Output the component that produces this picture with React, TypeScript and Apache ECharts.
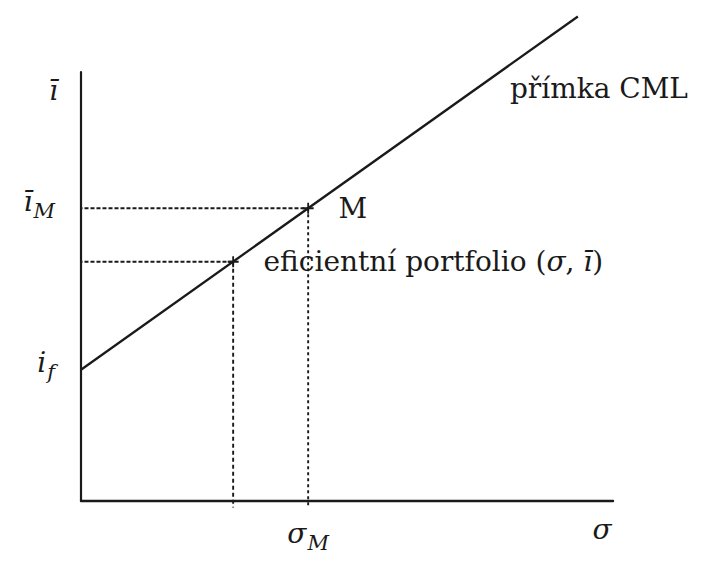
import React, { useEffect, useRef } from "react";
import * as echarts from "echarts";

// Capital market line: risk-free rate, market portfolio M and one efficient portfolio on the line
const riskFreeRate = 2.6;
const marketSigma = 4.27;
const marketReturn = 5.8;
const efficientSigma = 2.86;
const efficientReturn = 4.74;
const cmlSigma = [0, 9.34];
const cmlReturn = [2.6, 9.6];

const axisMaxSigma = 10;
const axisMaxReturn = 8.5;

const ink = "#1a1a1a";
const serif = "DejaVu Serif";

const crossSymbol = "path://M0,5L10,5M5,0L5,10";

export default function App() {
  const ref = useRef<HTMLDivElement>(null);

  useEffect(() => {
    if (!ref.current) return;
    const chart = echarts.init(ref.current, undefined, { renderer: "svg" });

    // italic symbol with a lowered subscript
    const big = {
      fontFamily: serif,
      fontStyle: "italic",
      fontSize: 28,
      color: ink,
      lineHeight: 30,
      verticalAlign: "top",
    };
    const sub = {
      fontFamily: serif,
      fontStyle: "italic",
      fontSize: 21,
      color: ink,
      lineHeight: 24,
      verticalAlign: "top",
      padding: [13, 0, 0, 1],
    };

    const leftOver = -0.16;
    const downOver = -0.13;

    const guide = (pts: number[][], dash: number[]) => ({
      type: "line",
      data: pts,
      symbol: "none",
      clip: false,
      silent: true,
      lineStyle: { color: ink, width: 1.9, type: dash },
      z: 1,
    });

    chart.setOption({
      animation: false,
      backgroundColor: "#ffffff",
      textStyle: { fontFamily: serif, color: ink },
      grid: { left: 81, top: 72, width: 532, height: 429 },
      xAxis: {
        type: "value",
        min: 0,
        max: axisMaxSigma,
        name: "σ",
        nameLocation: "end",
        nameGap: -11,
        nameTextStyle: {
          fontFamily: serif,
          fontStyle: "italic",
          fontSize: 28,
          color: ink,
          align: "center",
          verticalAlign: "top",
          padding: [14, 0, 0, 0],
        },
        axisLine: { show: true, lineStyle: { color: ink, width: 2.4 } },
        axisTick: { show: false },
        splitLine: { show: false },
        axisLabel: {
          customValues: [marketSigma],
          margin: 18,
          formatter: () => "{b|σ}{s|M}",
          rich: { b: big, s: sub },
        },
      },
      yAxis: {
        type: "value",
        min: 0,
        max: axisMaxReturn,
        name: "ī",
        nameLocation: "end",
        nameGap: -18,
        nameTextStyle: {
          fontFamily: serif,
          fontStyle: "italic",
          fontSize: 28,
          color: ink,
          align: "right",
          verticalAlign: "middle",
          padding: [0, 23, 0, 0],
        },
        axisLine: { show: true, lineStyle: { color: ink, width: 2.2 } },
        axisTick: { show: false },
        splitLine: { show: false },
        axisLabel: {
          customValues: [riskFreeRate, marketReturn],
          margin: 26,
          padding: [0, 0, 12, 0],
          formatter: (v: number) =>
            Math.abs(v - marketReturn) < 1e-6 ? "{b|ī}{s|M}" : "{b|i}{s|f}",
          rich: { b: big, s: sub },
        },
      },
      series: [
        guide(
          [
            [leftOver, marketReturn],
            [marketSigma, marketReturn],
          ],
          [4, 2]
        ),
        guide(
          [
            [marketSigma, marketReturn],
            [marketSigma, downOver],
          ],
          [3, 3]
        ),
        guide(
          [
            [leftOver, efficientReturn],
            [efficientSigma, efficientReturn],
          ],
          [4, 2]
        ),
        guide(
          [
            [efficientSigma, efficientReturn],
            [efficientSigma, downOver],
          ],
          [4, 3]
        ),
        {
          type: "line",
          data: cmlSigma.map((s, i) => [s, cmlReturn[i]]),
          symbol: "none",
          clip: false,
          lineStyle: { color: ink, width: 2.3 },
          z: 3,
          endLabel: {
            show: true,
            formatter: "přímka CML",
            fontFamily: serif,
            fontSize: 28,
            color: ink,
            offset: [-76, 72],
          },
        },
        {
          type: "scatter",
          symbol: crossSymbol,
          symbolSize: 11,
          clip: false,
          itemStyle: { color: "transparent", borderColor: ink, borderWidth: 1.8, opacity: 1 },
          z: 4,
          label: {
            show: true,
            position: "right",
            distance: 24,
            fontFamily: serif,
            fontSize: 28,
            color: ink,
          },
          data: [
            {
              value: [efficientSigma, efficientReturn],
              label: {
                formatter: "{n|eficientní portfolio (}{i|σ}{n|, }{i|ī}{n|)}",
                rich: {
                  n: { fontFamily: serif, fontSize: 28, color: ink },
                  i: { fontFamily: serif, fontSize: 28, fontStyle: "italic", color: ink },
                },
              },
            },
            {
              value: [marketSigma, marketReturn],
              label: { formatter: "M" },
            },
          ],
        },
      ],
    });

    return () => chart.dispose();
  }, []);

  return (
    <div
      ref={ref}
      style={{ position: "fixed", left: 0, top: 0, width: 715, height: 571, background: "#fff" }}
    />
  );
}
